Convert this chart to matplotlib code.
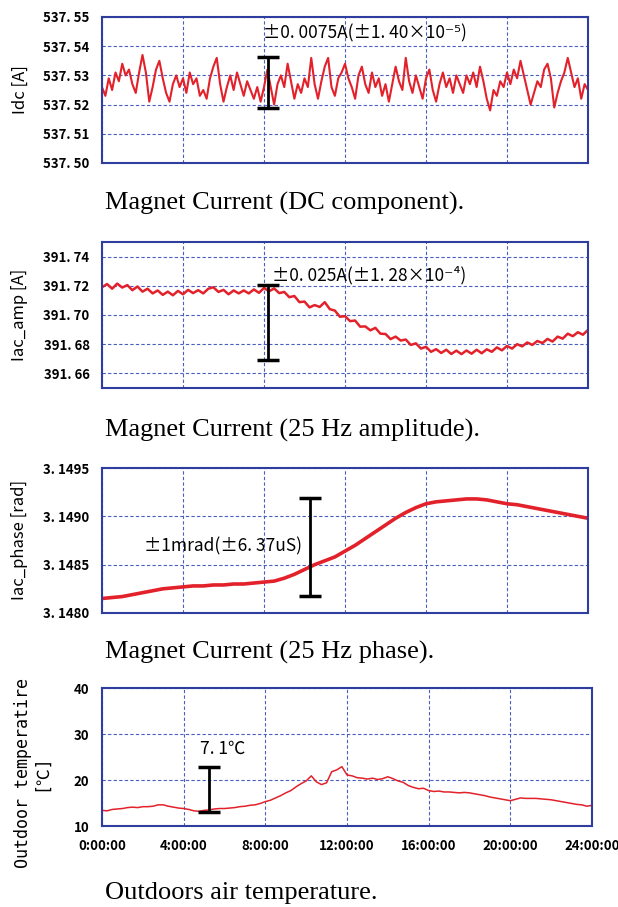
import matplotlib
matplotlib.use("Agg")
import matplotlib.pyplot as plt
import numpy as np

# values, one list per panel (evenly spaced over 0-24 h)
idc = [537.526, 537.523, 537.529, 537.525, 537.531, 537.528, 537.534, 537.530, 537.532, 537.527,
       537.524, 537.531, 537.537, 537.531, 537.521, 537.526, 537.532, 537.535, 537.529, 537.524,
       537.521, 537.527, 537.530, 537.526, 537.529, 537.524, 537.531, 537.527, 537.529, 537.523,
       537.525, 537.522, 537.529, 537.533, 537.536, 537.527, 537.521, 537.526, 537.530, 537.525,
       537.531, 537.527, 537.523, 537.528, 537.525, 537.522, 537.526, 537.521, 537.526, 537.532,
       537.526, 537.520, 537.527, 537.530, 537.526, 537.534, 537.528, 537.522, 537.527, 537.524,
       537.529, 537.526, 537.536, 537.527, 537.522, 537.528, 537.533, 537.536, 537.526, 537.523,
       537.529, 537.531, 537.534, 537.529, 537.526, 537.522, 537.530, 537.533, 537.527, 537.524,
       537.531, 537.526, 537.529, 537.523, 537.527, 537.521, 537.527, 537.533, 537.528, 537.525,
       537.536, 537.528, 537.524, 537.530, 537.526, 537.522, 537.529, 537.532, 537.525, 537.521,
       537.527, 537.531, 537.526, 537.529, 537.524, 537.530, 537.527, 537.524, 537.530, 537.527,
       537.531, 537.526, 537.533, 537.528, 537.522, 537.518, 537.525, 537.523, 537.528, 537.526,
       537.531, 537.527, 537.532, 537.529, 537.535, 537.530, 537.525, 537.520, 537.524, 537.528,
       537.526, 537.532, 537.534, 537.529, 537.519, 537.524, 537.528, 537.531, 537.536, 537.531,
       537.526, 537.529, 537.522, 537.527, 537.525]

iac_amp = [391.7190, 391.7212, 391.7180, 391.7215, 391.7188, 391.7205, 391.7170, 391.7195, 391.7160,
           391.7180, 391.7148, 391.7168, 391.7138, 391.7160, 391.7135, 391.7165, 391.7142, 391.7172,
           391.7150, 391.7170, 391.7148, 391.7180, 391.7190, 391.7158, 391.7172, 391.7142, 391.7168,
           391.7148, 391.7168, 391.7148, 391.7175, 391.7152, 391.7185, 391.7162, 391.7182, 391.7150,
           391.7158, 391.7122, 391.7130, 391.7088, 391.7092, 391.7052, 391.7068, 391.7055, 391.7088,
           391.7040, 391.7030, 391.6988, 391.6992, 391.6958, 391.6962, 391.6920, 391.6922, 391.6895,
           391.6912, 391.6872, 391.6870, 391.6835, 391.6852, 391.6825, 391.6832, 391.6795, 391.6806,
           391.6770, 391.6782, 391.6748, 391.6766, 391.6740, 391.6762, 391.6733, 391.6756, 391.6732,
           391.6757, 391.6735, 391.6762, 391.6738, 391.6765, 391.6748, 391.6778, 391.6758, 391.6788,
           391.6770, 391.6800, 391.6785, 391.6812, 391.6795, 391.6822, 391.6808, 391.6836, 391.6818,
           391.6852, 391.6838, 391.6872, 391.6855, 391.6882, 391.6865, 391.6898]

iac_phase = [3.14815, 3.14816, 3.14817, 3.14819, 3.14821, 3.14823, 3.14825, 3.14826, 3.14827, 3.14828,
             3.14828, 3.14829, 3.14829, 3.14830, 3.14830, 3.14831, 3.14832, 3.14833, 3.14836, 3.14840,
             3.14845, 3.14850, 3.14854, 3.14858, 3.14864, 3.14870, 3.14877, 3.14884, 3.14891, 3.14898,
             3.14904, 3.14909, 3.14913, 3.14915, 3.14916, 3.14917, 3.14918, 3.14918, 3.14917, 3.14915,
             3.14913, 3.14912, 3.14910, 3.14908, 3.14906, 3.14904, 3.14902, 3.14900, 3.14898]

temp = [13.4, 13.3, 13.6, 13.7, 13.8, 14.0, 14.1, 14.0, 14.2, 14.2, 14.3, 14.6, 14.6, 14.3, 14.1, 13.9,
        13.8, 13.6, 13.3, 13.2, 13.4, 13.5, 13.7, 13.8, 13.8, 13.9, 14.0, 14.2, 14.3, 14.5, 14.6, 14.9,
        15.3, 15.6, 16.1, 16.6, 17.2, 17.7, 18.5, 19.2, 19.8, 20.9, 19.6, 19.0, 19.4, 21.8, 22.2, 22.9,
        21.1, 20.9, 20.5, 20.4, 20.2, 20.4, 20.1, 20.3, 20.7, 20.3, 19.8, 19.5, 18.8, 18.4, 18.1, 18.2,
        17.7, 17.5, 17.6, 17.4, 17.4, 17.3, 17.2, 17.3, 17.2, 17.0, 16.8, 16.6, 16.3, 16.1, 15.9, 15.7,
        15.5, 15.8, 16.1, 16.0, 16.0, 16.0, 15.9, 15.8, 15.7, 15.5, 15.3, 15.1, 14.9, 14.7, 14.6, 14.3,
        14.5]

# tick labels
idc_ticks = [537.50, 537.51, 537.52, 537.53, 537.54, 537.55]
idc_labels = ["537. 50", "537. 51", "537. 52", "537. 53", "537. 54", "537. 55"]
amp_ticks = [391.66, 391.68, 391.70, 391.72, 391.74]
amp_labels = ["391. 66", "391. 68", "391. 70", "391. 72", "391. 74"]
phase_ticks = [3.1480, 3.1485, 3.1490, 3.1495]
phase_labels = ["3. 1480", "3. 1485", "3. 1490", "3. 1495"]
temp_ticks = [10, 20, 30, 40]
temp_labels = ["10", "20", "30", "40"]
hour_ticks = [0, 4, 8, 12, 16, 20, 24]
hour_labels = ["0:00:00", "4:00:00", "8:00:00", "12:00:00", "16:00:00", "20:00:00", "24:00:00"]

# error bars: (hour, low, high) and the annotation text
bars = [(8.2, 537.5188, 537.5363), (8.2, 391.6690, 391.7207), (10.25, 3.14818, 3.14919), (5.25, 13.0, 22.8)]
notes = ["±0. 0075A(±1. 40×10⁻⁵)", "±0. 025A(±1. 28×10⁻⁴)", "±1mrad(±6. 37uS)", "7. 1℃"]
note_pos = [(7.93, 537.5445), (8.38, 391.7274), (2.07, 3.14869), (4.78, 26.7)]

captions = ["Magnet Current (DC component).", "Magnet Current (25 Hz amplitude).",
            "Magnet Current (25 Hz phase).", "Outdoors air temperature."]

RED = "#e3212b"
SPINE = "#2e3d9e"
GRID = "#4b5fc0"
JP = ["Noto Sans CJK JP", "DejaVu Sans"]

W, H = 618, 907
fig = plt.figure(figsize=(W / 100, H / 100), dpi=100)

# axes boxes in pixels: left, top, right, bottom
boxes = [(102, 17, 588, 163), (102, 242, 588, 388), (102, 468, 588, 613), (102, 688, 592, 826)]
series = [idc, iac_amp, iac_phase, temp]
ylims = [(537.50, 537.55), (391.65, 391.75), (3.1480, 3.1495), (10, 40)]
yticks = [(idc_ticks, idc_labels), (amp_ticks, amp_labels), (phase_ticks, phase_labels), (temp_ticks, temp_labels)]
widths = [1.5, 1.8, 2.6, 1.1]

for i, (l, t, r, b) in enumerate(boxes):
    ax = fig.add_axes([l / W, 1 - b / H, (r - l) / W, (b - t) / H])
    y = series[i]
    x = np.linspace(0, 24, len(y))
    ax.plot(x, y, color=RED, lw=widths[i])
    ax.set_xlim(0, 24)
    ax.set_ylim(*ylims[i])
    ax.set_xticks(hour_ticks)
    ax.set_yticks(yticks[i][0])
    ax.set_yticklabels(yticks[i][1], family=JP, fontsize=9.5, fontweight="bold")
    if i == 3:
        ax.set_xticklabels(hour_labels, family=JP, fontsize=9.5, fontweight="bold")
    else:
        ax.set_xticklabels([])
    ax.tick_params(length=0, pad=9)
    ax.grid(True, color=GRID, lw=0.8, ls=(0, (3, 2)))
    for s in ax.spines.values():
        s.set_color(SPINE)
        s.set_linewidth(1.5)

    bx, lo, hi = bars[i]
    ax.errorbar([bx], [(lo + hi) / 2], yerr=[[(hi - lo) / 2], [(hi - lo) / 2]],
                color="black", lw=2, capsize=8, capthick=2.5)
    nx, ny = note_pos[i]
    ax.text(nx, ny, notes[i], family=JP, fontsize=12.5, ha="left", va="center")

# y labels
fig.text(20 / W, 1 - 90 / H, "Idc [A]", rotation=90, ha="center", va="center", family=JP, fontsize=12)
fig.text(20 / W, 1 - 315 / H, "Iac_amp [A]", rotation=90, ha="center", va="center", family=JP, fontsize=12)
fig.text(20 / W, 1 - 540 / H, "Iac_phase [rad]", rotation=90, ha="center", va="center", family=JP, fontsize=12)
fig.text(32 / W, 1 - 773 / H, "Outdoor temperatire\n[℃]", rotation=90, ha="center", va="center",
         multialignment="center", family=["DejaVu Sans Mono", "Noto Sans CJK JP"], fontsize=12,
         linespacing=1.0)

# captions
cap_y = [203, 430, 652, 893]
for c, cy in zip(captions, cap_y):
    fig.text(105 / W, 1 - cy / H, c, family="Liberation Serif", fontsize=19, ha="left", va="center")

fig.savefig("out.png", dpi=100)
